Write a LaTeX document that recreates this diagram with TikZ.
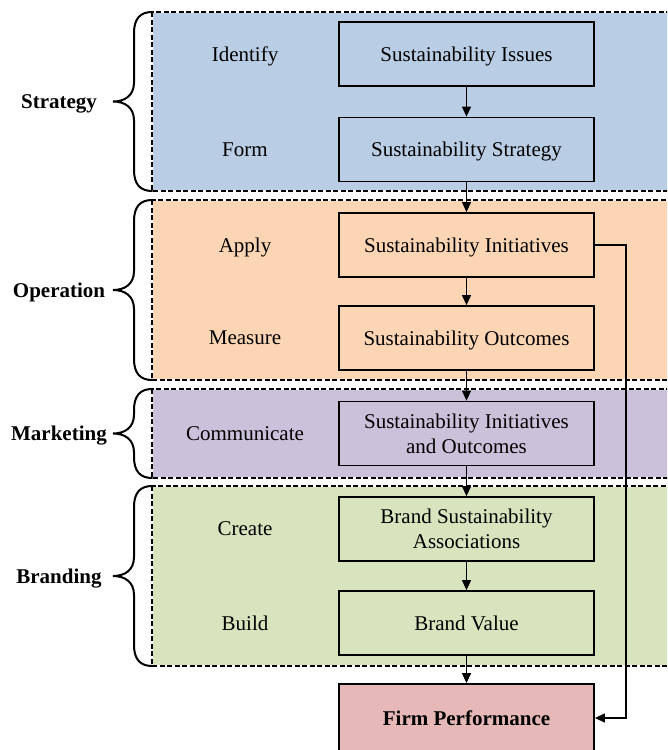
\documentclass[tikz,border=0pt]{standalone}
\usepackage{fontspec}
\setmainfont{Liberation Serif}
\usetikzlibrary{arrows.meta,positioning}

\definecolor{stratblue}{HTML}{B9CDE5}
\definecolor{operorange}{HTML}{FCD5B5}
\definecolor{mktpurple}{HTML}{CCC1DA}
\definecolor{brandgreen}{HTML}{D7E4BD}
\definecolor{perfpink}{HTML}{E6B9B8}

\begin{document}
\begin{tikzpicture}[x=1pt,y=-1pt,
    box/.style={draw,line width=1.8pt,minimum width=255pt,minimum height=64pt,
      align=center,text depth=0pt,font=\fontsize{21}{25}\selectfont},
    verb/.style={text depth=0pt,font=\fontsize{21}{25}\selectfont},
    phase/.style={text depth=0pt,font=\fontsize{21}{25}\selectfont\bfseries},
    flow/.style={line width=1.2pt,-{Triangle[length=10pt,width=9pt]}},
    panel/.style={line width=2pt,dash pattern=on 5pt off 2.5pt},
    curly/.style={line width=2pt,line cap=round}]
  \clip (0,0) rectangle (667,750);

  % four stages: shaded band, dashed frame, brace and bold title
  \foreach \ya/\yb/\col/\name/\txt in {12/191/stratblue/pStrat/Strategy,
      200/380/operorange/pOper/Operation,
      389/478/mktpurple/pMkt/Marketing,
      486/666/brandgreen/pBrand/Branding} {
    \pgfmathsetmacro\ym{(\ya+\yb)/2}
    \fill[\col] (152,\ya) rectangle (690,\yb);
    \draw[line width=2pt,white] (152,\ya) rectangle (690,\yb);
    \draw[panel] (152,\ya) rectangle (690,\yb);
    \draw[curly] (152,\ya) .. controls (140,\ya) and (134,\ya+7) .. (134,\ya+21)
      -- (134,\ym-19) .. controls (134,\ym-6) and (125,\ym) .. (113,\ym)
      .. controls (125,\ym) and (134,\ym+6) .. (134,\ym+19)
      -- (134,\yb-21) .. controls (134,\yb-7) and (140,\yb) .. (152,\yb);
    \node[phase] (\name) at (59,\ym) {\txt};
  }

  % actions on the left
  \node[verb] (vIdentify) at (245,54) {Identify};
  \node[verb] (vForm) at (245,149.5) {Form};
  \node[verb] (vApply) at (245,245) {Apply};
  \node[verb] (vMeasure) at (245,338) {Measure};
  \node[verb] (vComm) at (245,433.5) {Communicate};
  \node[verb] (vCreate) at (245,529) {Create};
  \node[verb] (vBuild) at (245,623) {Build};

  % process chain
  \node[box] (issues) at (466.5,54) {Sustainability Issues};
  \node[box] (strat) at (466.5,149.5) {Sustainability Strategy};
  \node[box] (init) at (466.5,245) {Sustainability Initiatives};
  \node[box] (outc) at (466.5,338) {Sustainability Outcomes};
  \node[box] (comm) at (466.5,433.5) {Sustainability Initiatives\\and Outcomes};
  \node[box] (assoc) at (466.5,529) {Brand Sustainability\\Associations};
  \node[box] (value) at (466.5,623) {Brand Value};
  \node[box,fill=perfpink,minimum height=68pt,font=\fontsize{21}{25}\selectfont\bfseries]
    (perf) at (466.5,718) {Firm Performance};

  \draw[flow] (issues) -- (strat);
  \draw[flow] (strat) -- (init);
  \draw[flow] (init) -- (outc);
  \draw[flow] (outc) -- (comm);
  \draw[flow] (comm) -- (assoc);
  \draw[flow] (assoc) -- (value);
  \draw[flow] (value) -- (perf);
  \draw[flow] (init.east) -- ++(31,0) |- (perf.east);
\end{tikzpicture}
\end{document}
